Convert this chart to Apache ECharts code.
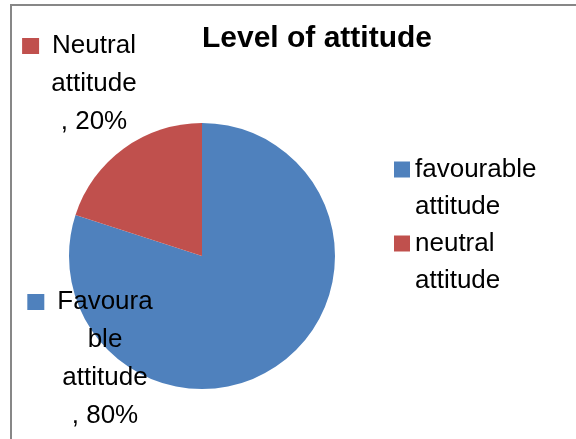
<!DOCTYPE html>
<html>
<head>
<meta charset="utf-8">
<script src="https://cdn.jsdelivr.net/npm/echarts@6/dist/echarts.min.js"></script>
<style>
    html, body { margin: 0; padding: 0; background: #fff; }
    #wrap { position: relative; width: 576px; height: 439px; overflow: hidden; }
    #frame { position: absolute; left: 10px; top: 4px; width: 600px; height: 460px;
             border-top: 2px solid #878787; border-left: 2px solid #878787; }
    #ecAttitude { position: absolute; left: 0; top: 0; width: 576px; height: 439px; }
</style>
</head>
<body>
<div id="wrap">
    <div id="frame"></div>
    <div id="ecAttitude"></div>
</div>
<script>
var titleText = 'Level of attitude';
var categories = ['favourable attitude', 'neutral attitude'];
var legendLines = [['favourable', 'attitude'], ['neutral', 'attitude']];
var values = [80, 20];
// data label text as wrapped in the picture
var labelLines = [['Favoura', 'ble', 'attitude'], ['Neutral', 'attitude']];
var colors = ['#4F81BD', '#C0504D'];

// where each data label block is centred
var labelPos = [[105, 359], [94, 84]];

var fontName = '"Liberation Sans", Arial, sans-serif';

function labelText(i) {
    var lines = labelLines[i].slice();
    lines.push(', ' + values[i] + '%');
    var out = '{sq' + i + '|}{gap|}{t|' + lines[0] + '}{pad|}';
    for (var k = 1; k < lines.length; k++) {
        out += '\n{t|' + lines[k] + '}';
    }
    return out;
}

var rich = {
    t: { fontSize: 26, lineHeight: 38, color: '#000', fontFamily: fontName },
    gap: { width: 13, height: 16 },
    pad: { width: 30, height: 16 }
};
colors.forEach(function (c, i) {
    rich['sq' + i] = { width: 17, height: 16, backgroundColor: c };
});

var pieData = categories.map(function (name, i) {
    return { name: name, value: values[i], itemStyle: { color: colors[i] } };
});

getechart('ecAttitude', {
    animation: false,
    title: {
        text: titleText,
        left: 312,
        top: 19,
        textAlign: 'center',
        textStyle: {
            fontSize: 30,
            fontWeight: 'bold',
            color: '#000',
            fontFamily: fontName
        }
    },
    legend: {
        orient: 'vertical',
        left: 389,
        top: 109,
        itemWidth: 16,
        itemHeight: 16,
        itemGap: -37,
        icon: 'rect',
        data: categories,
        // blank first line so the key sits beside the first text line
        formatter: function (name) {
            return ' \n' + legendLines[categories.indexOf(name)].join('\n');
        },
        textStyle: {
            fontSize: 26,
            lineHeight: 37,
            color: '#000',
            fontFamily: fontName
        }
    },
    series: [
        {
            name: 'Level of attitude',
            type: 'pie',
            center: [202, 256],
            radius: 133,
            startAngle: 90,
            avoidLabelOverlap: false,
            label: {
                show: true,
                formatter: function (p) { return labelText(p.dataIndex); },
                rich: rich,
                align: 'center'
            },
            labelLine: { show: false },
            labelLayout: function (p) {
                return {
                    x: labelPos[p.dataIndex][0],
                    y: labelPos[p.dataIndex][1],
                    align: 'center',
                    verticalAlign: 'middle'
                };
            },
            emphasis: { disabled: true },
            data: pieData
        }
    ]
});

function getechart(idName, idOption) {
    var id = echarts.init(document.getElementById(idName));
    id.setOption(idOption);
    window.addEventListener('resize', function () {
        id.resize();
    });
}
</script>
</body>
</html>
